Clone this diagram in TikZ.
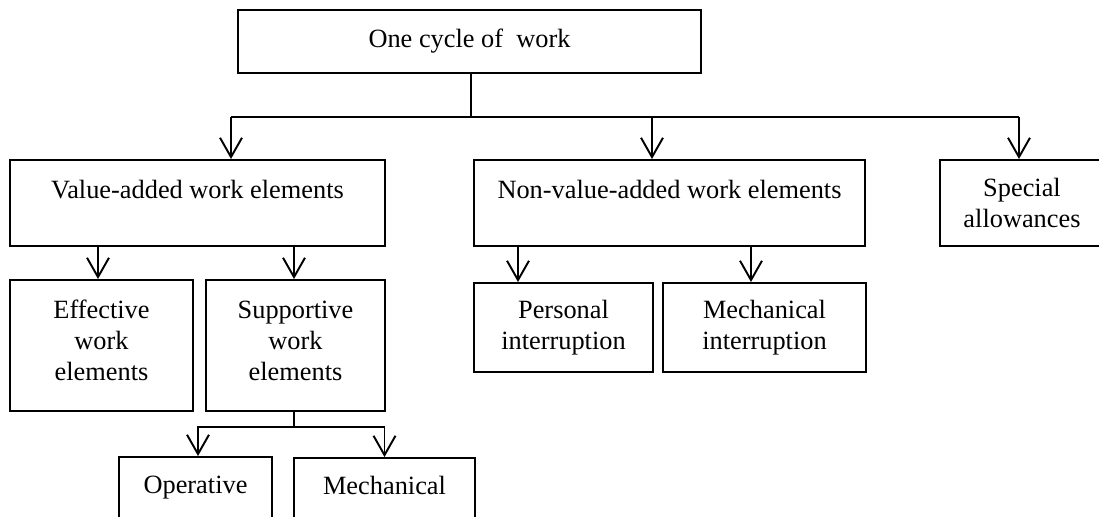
\documentclass[tikz,border=0pt]{standalone}
\usepackage{fontspec}
\setmainfont{Liberation Serif}
\usetikzlibrary{arrows.meta}

\tikzset{
  box/.style={draw, line width=1.1pt, align=center, inner sep=2pt,
    font=\fontsize{15}{17.6}\selectfont},
  link/.style={line width=1.1pt},
  arr/.style={line width=1.1pt, -{Straight Barb[length=11pt, width=12.5pt, line width=1.1pt]}},
}

\begin{document}
\begin{tikzpicture}[x=0.02cm, y=-0.02cm]
	% Frame of the picture
	\useasboundingbox (0,0) rectangle (1099,517);
	\clip (0,0) rectangle (1099,517);
	
	% Top box
	\node[box, minimum width=9.26cm, minimum height=1.26cm] (cycle) at (469.5,41.5) {One cycle of~ work};
	
	% Second row
	\node[box, minimum width=7.5cm, minimum height=1.72cm, text height=10pt, text depth=14.6pt] (valadd) at (197.5,203) {Value-added work elements};
	\node[box, minimum width=7.82cm, minimum height=1.72cm, text height=10pt, text depth=14.6pt] (nonval) at (669.5,203) {Non-value-added work elements};
	\node[box, minimum width=3.28cm, minimum height=1.72cm] (special) at (1022,203) {Special\\allowances};
	
	% Third row
	\node[box, minimum width=3.66cm, minimum height=2.62cm] (effective) at (101.5,345.5) {Effective\\work\\elements\\[-12pt]};
	\node[box, minimum width=3.58cm, minimum height=2.62cm] (supportive) at (295.5,345.5) {Supportive\\work\\elements\\[-12pt]};
	\node[box, minimum width=3.58cm, minimum height=1.78cm] (personal) at (563.5,327.5) {Personal\\interruption};
	\node[box, minimum width=4.06cm, minimum height=1.78cm] (mechint) at (764.5,327.5) {Mechanical\\interruption};
	
	% Bottom row (cut by the frame)
	\node[box, minimum width=3.06cm, minimum height=1.76cm, text height=10pt, text depth=18pt] (operative) at (195.5,501) {Operative};
	\node[box, minimum width=3.62cm, minimum height=1.76cm, text height=10pt, text depth=18pt] (mechanical) at (384.5,502) {Mechanical};
	
	% Connectors from the top box
	\coordinate (busL) at (231,117);
	\coordinate (busM) at (652,117);
	\coordinate (busR) at (1019,117);
	\coordinate (drop) at (471,117);
	\draw[link] (drop |- cycle.south) -- (drop);
	\draw[link] (busL) -- (busR);
	\draw[arr] (busL) -- (busL |- valadd.north);
	\draw[arr] (busM) -- (busM |- nonval.north);
	\draw[arr] (busR) -- (busR |- special.north);
	
	% Connectors of the second row
	\draw[arr] ([xshift=-0.07cm]effective.north |- valadd.south) -- ([xshift=-0.07cm]effective.north);
	\draw[arr] ([xshift=-0.03cm]supportive.north |- valadd.south) -- ([xshift=-0.03cm]supportive.north);
	\draw[arr] ([xshift=-0.91cm]personal.north |- nonval.south) -- ([xshift=-0.91cm]personal.north);
	\draw[arr] ([xshift=-0.27cm]mechint.north |- nonval.south) -- ([xshift=-0.27cm]mechint.north);
	
	% Connectors from supportive elements
	\coordinate (sbus) at (294,427);
	\draw[link] (sbus |- supportive.south) -- (sbus);
	\draw[arr] (sbus) -| ([xshift=0.05cm]operative.north);
	\draw[arr] (sbus) -| (mechanical.north);
	
\end{tikzpicture}
\end{document}
